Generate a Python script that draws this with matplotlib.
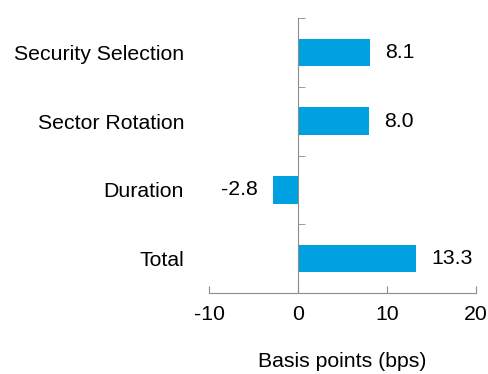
import matplotlib
matplotlib.use("Agg")
import matplotlib.pyplot as plt
import numpy as np

categories = ["Security Selection", "Sector Rotation", "Duration", "Total"]
values = [8.1, 8.0, -2.8, 13.3]
xticks = [-10, 0, 10, 20]

plt.rcParams['font.family'] = ['Liberation Sans', 'DejaVu Sans']
plt.rcParams['axes.unicode_minus'] = False

fig = plt.figure(figsize=(4.88, 3.74), dpi=100)
ax = fig.add_axes([209/488, 81/374, 267/488, 275/374])

y = np.arange(len(categories))
bars = ax.barh(y, values, height=0.4, color='#00A1E0')
ax.set_ylim(len(categories) - 0.5, -0.5)
ax.set_xlim(xticks[0], xticks[-1])

# value labels next to the bars
ax.bar_label(bars, labels=[f"{v:.1f}" for v in values], padding=11, fontsize=15.3)

# spines: vertical one sits on zero, only bottom kept otherwise
gray = '#8c8c8c'
for s in ['top', 'right']:
    ax.spines[s].set_visible(False)
ax.spines['left'].set_position(('data', 0))
ax.spines['left'].set_color(gray)
ax.spines['bottom'].set_color(gray)

ax.set_xticks(xticks)
ax.tick_params(axis='x', direction='in', length=5, color=gray, labelsize=15.3, pad=9)

# category labels (pushed back out to the left) + boundary ticks
ax.set_yticks(y)
ax.set_yticklabels(categories)
ax.tick_params(axis='y', which='major', length=0, labelsize=15.3, pad=82)
ax.set_yticks(np.arange(len(categories) + 1) - 0.5, minor=True)
ax.tick_params(axis='y', which='minor', direction='in', length=5, color=gray)

ax.set_xlabel("Basis points (bps)", fontsize=15.3, labelpad=20)

plt.savefig("out.png", dpi=100)
